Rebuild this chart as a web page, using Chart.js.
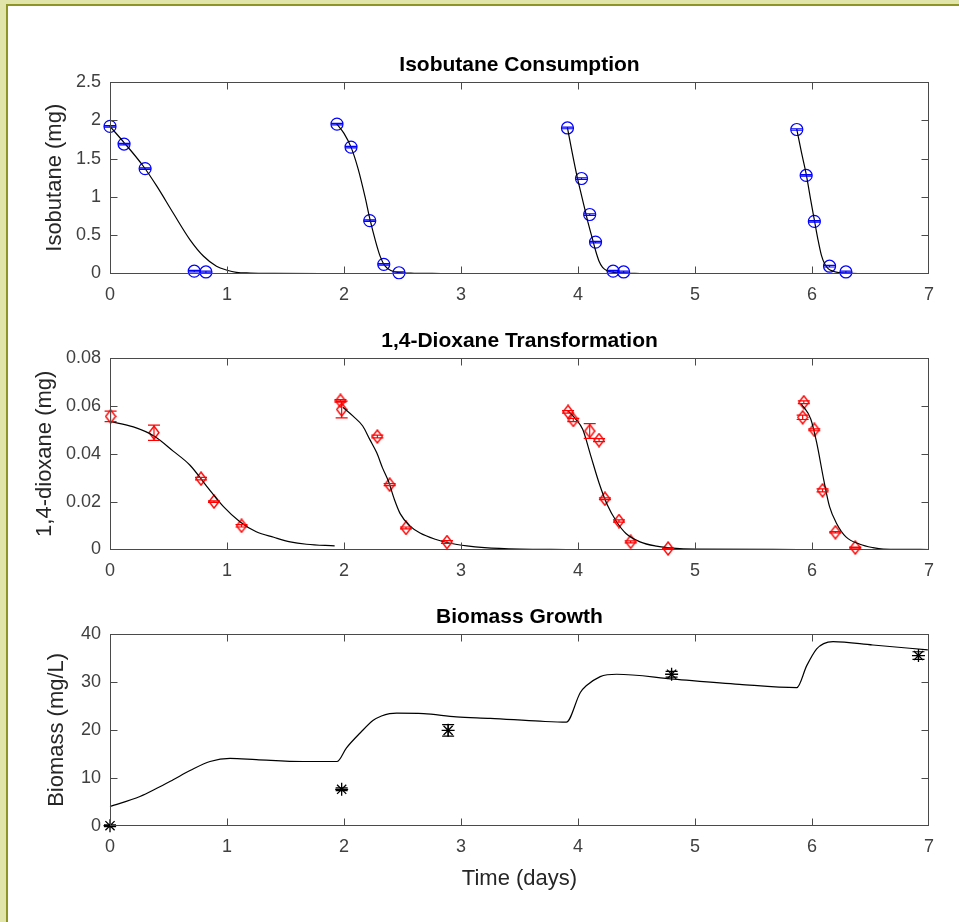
<!DOCTYPE html>
<html>
<head>
<meta charset="utf-8">
<script src="https://cdn.jsdelivr.net/npm/chart.js@4.4.1/dist/chart.umd.min.js"></script>
<style>
  html, body { margin: 0; padding: 0; }
  body { width: 959px; height: 922px; background: #e2e5aa; position: relative; overflow: hidden; }
  #frame { position: absolute; left: 6px; top: 4px; right: 0; bottom: 0; background: #fff;
           border-left: 2px solid #8d9529; border-top: 2px solid #8d9529; }
  canvas { position: absolute; left: 0; }
</style>
</head>
<body>
<div id="frame"></div>
<canvas id="isoChart" width="959" height="300" style="top:0px"></canvas>
<canvas id="dioxChart" width="959" height="300" style="top:276px"></canvas>
<canvas id="bioChart" width="959" height="370" style="top:552px"></canvas>
<script>
// tick values
const xTicks = [0, 1, 2, 3, 4, 5, 6, 7];
const isoTicks = [0, 0.5, 1, 1.5, 2, 2.5];
const dioxTicks = [0, 0.02, 0.04, 0.06, 0.08];
const bioTicks = [0, 10, 20, 30, 40];

// isobutane measurements
const isoT = [0, 0.12, 0.30, 0.72, 0.82, 1.94, 2.06, 2.22, 2.34, 2.47, 3.91, 4.03, 4.10, 4.15, 4.30, 4.39, 5.87, 5.95, 6.02, 6.15, 6.29];
const isoY = [1.92, 1.69, 1.37, 0.03, 0.02, 1.95, 1.65, 0.69, 0.12, 0.01, 1.90, 1.24, 0.77, 0.41, 0.03, 0.02, 1.88, 1.28, 0.68, 0.095, 0.02];
const isoErr = [0.01, 0.01, 0.01, 0.01, 0.01, 0.01, 0.01, 0.01, 0.01, 0.01, 0.01, 0.01, 0.01, 0.01, 0.01, 0.01, 0.01, 0.01, 0.01, 0.01, 0.01];

// isobutane model (null = break between feeding cycles)
const isoModelT = [0, 0.12, 0.285, 0.40, 0.54, 0.684, 0.80, 0.91, 1.0, 1.08, 1.2, 1.4, 1.93, null,
  1.94, 2.0, 2.06, 2.12, 2.18, 2.22, 2.27, 2.31, 2.35, 2.40, 2.47, 2.6, 2.83, null,
  3.91, 3.95, 3.99, 4.03, 4.06, 4.09, 4.12, 4.15, 4.18, 4.21, 4.25, 4.30, 4.40, 4.53, null,
  5.87, 5.91, 5.95, 5.99, 6.02, 6.05, 6.08, 6.11, 6.14, 6.18, 6.24, 6.39];
const isoModelY = [1.92, 1.71, 1.40, 1.14, 0.79, 0.44, 0.225, 0.095, 0.043, 0.015, 0.006, 0.002, 0.0, null,
  1.95, 1.83, 1.65, 1.37, 1.0, 0.72, 0.42, 0.22, 0.10, 0.04, 0.012, 0.003, 0.0, null,
  1.90, 1.58, 1.28, 1.02, 0.83, 0.64, 0.47, 0.30, 0.16, 0.08, 0.035, 0.015, 0.004, 0.0, null,
  1.88, 1.58, 1.30, 0.95, 0.70, 0.45, 0.24, 0.12, 0.06, 0.03, 0.01, 0.0];

// 1,4-dioxane measurements
const dioxT = [0.005, 0.376, 0.778, 0.889, 1.124, 1.97, 1.98, 2.285, 2.39, 2.53, 2.88, 3.915, 3.96, 4.10, 4.18, 4.23, 4.35, 4.45, 4.77, 5.93, 5.92, 6.02, 6.09, 6.20, 6.37];
const dioxY = [0.0556, 0.0488, 0.0296, 0.0200, 0.0099, 0.0621, 0.0585, 0.0472, 0.0271, 0.0090, 0.0031, 0.0575, 0.0541, 0.0495, 0.0457, 0.0212, 0.0119, 0.0032, 0.0004, 0.0615, 0.0552, 0.0500, 0.0247, 0.0072, 0.0008];
const dioxErr = [0.0022, 0.0032, 0.0005, 0.0003, 0.0005, 0.0005, 0.0035, 0.0006, 0.0004, 0.0004, 0.0006, 0.0005, 0.0007, 0.0031, 0.0006, 0.0004, 0.0005, 0.0004, 0.0002, 0.0006, 0.0009, 0.0004, 0.0006, 0.0003, 0.0002];

// 1,4-dioxane model
const dioxModelT = [0, 0.2, 0.376, 0.54, 0.684, 0.827, 0.97, 1.11, 1.25, 1.40, 1.54, 1.68, 1.92, null,
  1.99, 2.08, 2.16, 2.22, 2.28, 2.33, 2.38, 2.43, 2.48, 2.56, 2.65, 2.78, 2.9, 3.05, 3.2, 3.5, 3.9, null,
  3.915, 3.98, 4.04, 4.11, 4.18, 4.25, 4.33, 4.41, 4.53, 4.67, 4.81, 5.0, 5.88, null,
  5.91, 5.99, 6.04, 6.10, 6.15, 6.21, 6.29, 6.41, 6.52, 6.61, 7.0];
const dioxModelY = [0.0535, 0.0512, 0.0474, 0.0411, 0.0352, 0.0264, 0.0179, 0.0116, 0.0074, 0.0051, 0.0032, 0.0022, 0.0015, null,
  0.0594, 0.0556, 0.0516, 0.046, 0.0404, 0.034, 0.0285, 0.021, 0.0150, 0.0100, 0.0069, 0.0043, 0.0027, 0.0015, 0.0008, 0.0002, 0.0, null,
  0.058, 0.0545, 0.0502, 0.039, 0.0278, 0.0187, 0.0116, 0.0067, 0.0032, 0.0014, 0.0006, 0.0002, 0.0, null,
  0.0608, 0.0544, 0.0446, 0.0292, 0.0179, 0.0109, 0.0053, 0.0022, 0.0008, 0.0002, 0.0];

// biomass measurements
const bioT = [0, 1.98, 2.89, 4.80, 6.91];
const bioY = [0, 7.6, 19.9, 31.6, 35.5];
const bioErr = [0.2, 0.3, 1.2, 0.6, 0.8];

// biomass model
const bioModelT = [0, 0.256, 0.40, 0.54, 0.684, 0.855, 1.026, 1.25, 1.65, 1.94, 2.02, 2.14, 2.25, 2.32, 2.39, 2.45, 2.68, 2.96, 3.25, 3.675, 3.90,
  4.02, 4.07, 4.19, 4.25, 4.33, 4.82, 5.38, 5.87, 5.955, 6.04, 6.10, 6.18, 6.52, 6.99];
const bioModelY = [4.0, 6.1, 7.8, 9.6, 11.5, 13.4, 14.05, 13.8, 13.4, 13.4, 16.2, 19.4, 22.0, 22.9, 23.4, 23.5, 23.4, 22.7, 22.4, 21.8, 21.6,
  27.8, 29.2, 31.1, 31.5, 31.6, 30.6, 29.5, 28.8, 33.4, 36.9, 38.0, 38.4, 37.7, 36.7];

const FONT = "'Liberation Sans', Arial, Helvetica, sans-serif";

function pts(t, y) {
  return t.map((v, i) => ({ x: v === null ? NaN : v, y: y[i] === null ? NaN : y[i] }));
}

// matlab style diamond, a bit taller than wide
function diamondMarker(color) {
  const c = document.createElement('canvas');
  c.width = 12; c.height = 15;
  const g = c.getContext('2d');
  g.strokeStyle = color;
  g.lineWidth = 1.4;
  g.beginPath();
  g.moveTo(6, 1); g.lineTo(11, 7.5); g.lineTo(6, 14); g.lineTo(1, 7.5);
  g.closePath();
  g.stroke();
  return c;
}

// title centred over the plot area (not the whole canvas)
const axesTitle = {
  id: 'axesTitle',
  afterDraw(chart, args, opts) {
    const { ctx, chartArea: a } = chart;
    ctx.save();
    ctx.fillStyle = '#000';
    ctx.font = 'bold 21px ' + FONT;
    ctx.textAlign = 'center';
    ctx.textBaseline = 'middle';
    ctx.fillText(opts.text, (a.left + a.right) / 2, a.top - 17);
    ctx.restore();
  }
};

// draws the box round the axes and the inward tick marks
const axesBox = {
  id: 'axesBox',
  afterDraw(chart) {
    const { ctx, chartArea: a, scales: { x, y } } = chart;
    const L = Math.round(a.left) + 0.5, R = Math.round(a.right) - 0.5;
    const T = Math.round(a.top) + 0.5, B = Math.round(a.bottom) - 0.5;
    ctx.save();
    ctx.strokeStyle = '#4a4a4a';
    ctx.lineWidth = 1;
    ctx.strokeRect(L, T, R - L, B - T);
    ctx.beginPath();
    x.ticks.forEach(t => {
      const px = Math.round(x.getPixelForValue(t.value)) + 0.5;
      if (px <= L + 1 || px >= R - 1) return;
      ctx.moveTo(px, B); ctx.lineTo(px, B - 7);
      ctx.moveTo(px, T); ctx.lineTo(px, T + 7);
    });
    y.ticks.forEach(t => {
      const py = Math.round(y.getPixelForValue(t.value)) + 0.5;
      if (py <= T + 1 || py >= B - 1) return;
      ctx.moveTo(L, py); ctx.lineTo(L + 7, py);
      ctx.moveTo(R, py); ctx.lineTo(R - 7, py);
    });
    ctx.stroke();
    ctx.restore();
  }
};

// vertical error bars with caps
const errorBars = {
  id: 'errorBars',
  afterDatasetsDraw(chart) {
    const ctx = chart.ctx;
    const yScale = chart.scales.y;
    chart.data.datasets.forEach((ds, i) => {
      if (!ds.errors) return;
      const meta = chart.getDatasetMeta(i);
      ctx.save();
      ctx.strokeStyle = ds.borderColor;
      ctx.lineWidth = 1.2;
      ctx.beginPath();
      meta.data.forEach((p, j) => {
        const v = ds.data[j].y, e = ds.errors[j];
        const y1 = yScale.getPixelForValue(v + e), y2 = yScale.getPixelForValue(v - e);
        ctx.moveTo(p.x, y1); ctx.lineTo(p.x, y2);
        ctx.moveTo(p.x - 6, y1); ctx.lineTo(p.x + 6, y1);
        ctx.moveTo(p.x - 6, y2); ctx.lineTo(p.x + 6, y2);
      });
      ctx.stroke();
      ctx.restore();
    });
  }
};

function makePanel(id, o) {
  const ctx = document.getElementById(id).getContext('2d');
  return new Chart(ctx, {
    type: 'scatter',
    data: {
      datasets: [
        {
          data: pts(o.modelT, o.modelY),
          showLine: true,
          borderColor: '#000',
          borderWidth: 1.2,
          pointRadius: 0,
          cubicInterpolationMode: 'monotone',
          spanGaps: false,
          clip: false
        },
        {
          data: pts(o.t, o.y),
          errors: o.err,
          showLine: false,
          pointStyle: o.marker,
          pointRadius: o.radius,
          borderColor: o.color,
          backgroundColor: 'rgba(0,0,0,0)',
          borderWidth: o.markerWidth || 1,
          clip: false
        }
      ]
    },
    options: {
      responsive: false,
      animation: false,
      devicePixelRatio: 1,
      layout: { padding: { left: 0, right: 30, top: 82, bottom: 0 } },
      plugins: {
        legend: { display: false },
        tooltip: { enabled: false },
        title: { display: false },
        axesTitle: { text: o.title }
      },
      scales: {
        x: {
          type: 'linear',
          min: 0, max: 7,
          grid: { display: false, drawTicks: false },
          border: { display: false },
          afterBuildTicks: s => { s.ticks = xTicks.map(v => ({ value: v })); },
          afterFit: s => { s.height = o.xHeight; },
          ticks: {
            color: '#404040',
            padding: 11,
            font: { family: FONT, size: 18 },
            callback: v => String(v)
          },
          title: {
            display: !!o.xTitle,
            text: o.xTitle || '',
            color: '#262626',
            font: { family: FONT, size: 22 },
            padding: { top: 0, bottom: 30 }
          }
        },
        y: {
          type: 'linear',
          min: o.yTicks[0], max: o.yTicks[o.yTicks.length - 1],
          grid: { display: false, drawTicks: false },
          border: { display: false },
          afterBuildTicks: s => { s.ticks = o.yTicks.map(v => ({ value: v })); },
          afterFit: s => { s.width = 110; },
          ticks: {
            color: '#404040',
            padding: 9,
            font: { family: FONT, size: 18 },
            callback: v => String(v)
          },
          title: {
            display: true,
            text: o.yTitle,
            color: '#262626',
            font: { family: FONT, size: 22 },
            padding: { top: o.yTitlePad, bottom: 0 }
          }
        }
      }
    },
    plugins: [errorBars, axesBox, axesTitle]
  });
}

makePanel('isoChart', {
  title: 'Isobutane Consumption', yTitle: 'Isobutane (mg)', yTitlePad: 42,
  yTicks: isoTicks, xHeight: 26.5,
  t: isoT, y: isoY, err: isoErr, modelT: isoModelT, modelY: isoModelY,
  marker: 'circle', radius: 6, color: '#0000ff', markerWidth: 1.2
});

makePanel('dioxChart', {
  title: '1,4-Dioxane Transformation', yTitle: '1,4-dioxane (mg)', yTitlePad: 32,
  yTicks: dioxTicks, xHeight: 26.5,
  t: dioxT, y: dioxY, err: dioxErr, modelT: dioxModelT, modelY: dioxModelY,
  marker: diamondMarker('#ff0000'), radius: 6, color: '#ff0000'
});

makePanel('bioChart', {
  title: 'Biomass Growth', yTitle: 'Biomass (mg/L)', yTitlePad: 44, xTitle: 'Time (days)',
  yTicks: bioTicks, xHeight: 96.3,
  t: bioT, y: bioY, err: bioErr, modelT: bioModelT, modelY: bioModelY,
  marker: 'star', radius: 6.5, color: '#000', markerWidth: 1.3
});
</script>
</body>
</html>
